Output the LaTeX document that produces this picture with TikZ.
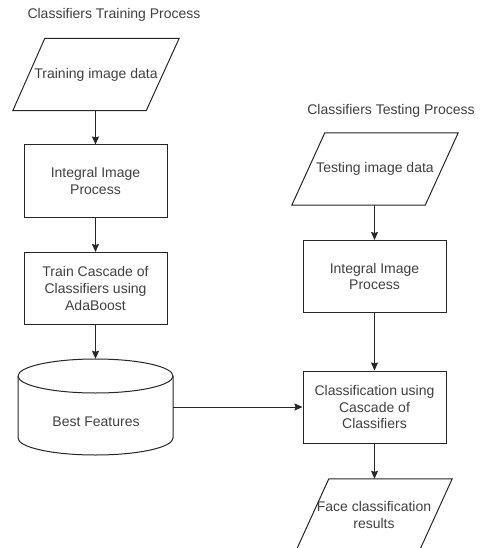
\documentclass[tikz,border=0pt]{standalone}
\usepackage{fontspec}
\setmainfont{Liberation Sans}
\usetikzlibrary{arrows.meta}
\begin{document}
\begin{tikzpicture}[x=1pt,y=-1pt,
  line/.style={draw=black!85, line width=1pt},
  arr/.style={line, -{Stealth[length=8pt,width=7pt,inset=1pt]}},
  txt/.style={text=black!75, font=\fontsize{14}{16.8}\selectfont, align=center, inner sep=0pt},
  procbox/.style={line, txt, minimum width=143pt, minimum height=72pt},
  iobox/.style={txt, minimum width=166pt, minimum height=72pt},
]
\useasboundingbox (0,0) rectangle (479,548);
\clip (0,0) rectangle (479,548);

% titles
\node[txt] (t1) at (114,15) {Classifiers Training Process};
\node[txt] (t2) at (391,111) {Classifiers Testing Process};

% left column
\node[iobox] (p1) at (96,74.5) {Training image data};
\draw[line] ([xshift=32pt]p1.north west) -- (p1.north east) -- ([xshift=-33pt]p1.south east) -- (p1.south west) -- cycle;
\node[procbox] (b1) at (95.5,181) {Integral Image\\Process};
\node[procbox] (b2) at (95.5,288.5) {Train Cascade of\\Classifiers using\\AdaBoost};

% cylinder
\node[minimum width=155pt, minimum height=96pt, inner sep=0pt] (cyl) at (95.5,407) {};
\draw[line] (18,376) arc[start angle=180, end angle=0, x radius=77.5pt, y radius=17pt]
  arc[start angle=0, end angle=-180, x radius=77.5pt, y radius=17pt];
\draw[line] (18,376) -- (18,438) arc[start angle=180, end angle=360, x radius=77.5pt, y radius=17pt] -- (173,376);
\node[txt] (cyltext) at (96,422) {Best Features};

% right column
\node[iobox] (p2) at (375,169) {Testing image data};
\draw[line] ([xshift=33pt]p2.north west) -- (p2.north east) -- ([xshift=-33pt]p2.south east) -- (p2.south west) -- cycle;
\node[procbox] (b3) at (374.5,276.5) {Integral Image\\Process};
\node[procbox] (b4) at (374.5,407) {Classification using\\Cascade of\\Classifiers};
\node[txt, minimum width=156pt, minimum height=72pt] (p3) at (374,515) {Face classification\\results};
\draw[line] ([xshift=33pt]p3.north west) -- (p3.north east) -- ([xshift=-33pt]p3.south east) -- (p3.south west) -- cycle;

% connectors
\draw[arr] (p1.south -| b1.north) -- (b1.north);
\draw[arr] (b1) -- (b2);
\draw[arr] (b2.south) -- (cyl.north);
\draw[arr] (cyl.east) -- (b4.west);
\draw[arr] (p2.south -| b3.north) -- (b3.north);
\draw[arr] (b3) -- (b4);
\draw[arr] (b4.south) -- (p3.north -| b4.south);
\end{tikzpicture}
\end{document}
